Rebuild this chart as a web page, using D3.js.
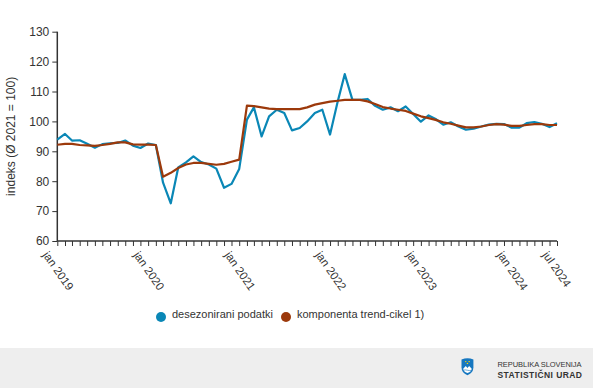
<!DOCTYPE html>
<html>
<head>
<meta charset="utf-8">
<script src="https://cdn.jsdelivr.net/npm/d3@7"></script>
<style>
  body { margin: 0; background: #fff; font-family: "Liberation Sans", Arial, sans-serif; }
  .axis text { fill: #333; font-size: 12px; font-family: "Liberation Sans", Arial, sans-serif; }
  .axis path, .axis line { stroke: #333; }
</style>
</head>
<body>
<div id="chart"></div>
<script>
// monthly data, jan 2019 .. jul 2024
const startMonth = new Date(2019, 0, 1);

const desezonirani = [
  93.9, 95.8, 93.6, 93.7, 92.5, 91.2, 92.4, 92.7, 92.8, 93.6, 91.9, 91.1,
  92.6, 92.1, 79.5, 72.6, 84.6, 86.3, 88.3, 86.4, 85.6, 84.2, 77.8, 79.1,
  84.1, 100.6, 104.7, 95.0, 101.7, 103.9, 102.8, 97.0, 97.8, 100.0, 102.8, 103.9,
  95.6, 106.7, 115.8, 107.2, 107.2, 107.5, 105.2, 103.9, 104.7, 103.4, 105.0, 102.5,
  99.9, 102.0, 100.8, 98.9, 99.7, 98.3, 97.2, 97.6, 98.3, 98.9, 99.2, 99.1,
  97.9, 97.9, 99.4, 99.8, 99.2, 98.1, 99.4
];

const trendCikel = [
  92.2, 92.5, 92.5, 92.1, 92.0, 91.8, 92.1, 92.5, 93.0, 93.0, 92.3, 92.2,
  92.2, 92.1, 81.5, 82.8, 84.4, 85.6, 86.1, 86.1, 85.8, 85.5, 85.8, 86.5,
  87.2, 105.3, 105.1, 104.7, 104.3, 104.1, 104.1, 104.1, 104.1, 104.7, 105.6, 106.1,
  106.6, 106.9, 107.2, 107.2, 107.2, 106.7, 105.8, 104.8, 104.3, 103.9, 103.5, 102.6,
  101.7, 101.1, 100.5, 99.7, 99.2, 98.6, 98.0, 98.0, 98.3, 98.8, 99.1, 98.9,
  98.5, 98.5, 98.8, 99.1, 99.1, 98.8, 98.8
];

const yTicks = [60, 70, 80, 90, 100, 110, 120, 130];
const xTickDates = [
  new Date(2019, 0, 1), new Date(2020, 0, 1), new Date(2021, 0, 1),
  new Date(2022, 0, 1), new Date(2023, 0, 1), new Date(2024, 0, 1), new Date(2024, 6, 1)
];
const xTickLabels = ["jan 2019", "jan 2020", "jan 2021", "jan 2022", "jan 2023", "jan 2024", "jul 2024"];

const seriesNames = ["desezonirani podatki", "komponenta trend-cikel 1)"];
const seriesColors = ["#0a87b6", "#9c390b"];
const yTitle = "indeks (\u00d8 2021 = 100)";

const W = 593, H = 388;
const margin = {top: 31.7, right: 36, bottom: 147, left: 57.3};
const width = W - margin.left - margin.right;
const height = H - margin.top - margin.bottom;

const months = d3.range(desezonirani.length).map(i => d3.timeMonth.offset(startMonth, i));

const svg = d3.select("#chart").append("svg")
  .attr("width", W).attr("height", H);

const g = svg.append("g")
  .attr("transform", `translate(${margin.left},${margin.top})`);

const x = d3.scaleTime()
  .domain(d3.extent(months))
  .range([0, width]);

const y = d3.scaleLinear()
  .domain([60, 130])
  .range([height, 0]);

// y axis
const yAxis = g.append("g").attr("class", "axis")
  .call(d3.axisLeft(y).tickValues(yTicks).tickSize(5).tickPadding(3));
yAxis.select(".domain").attr("d", `M0,0V${height}`).attr("stroke-width", 1.5);

// x axis: monthly ticks, labels rotated
const xAxis = g.append("g").attr("class", "axis")
  .attr("transform", `translate(0,${height})`)
  .call(d3.axisBottom(x).tickValues(months).tickSize(5).tickFormat(""));
xAxis.select(".domain").attr("d", `M0,0H${width}`).attr("stroke-width", 1.5);
xAxis.selectAll(".tick line").attr("stroke", "#666");

g.append("g").selectAll("text")
  .data(xTickDates)
  .join("text")
  .attr("transform", (d, i) => `translate(${x(d) - 15},${height + 14}) rotate(55)`)
  .attr("font-size", 11.5)
  .attr("fill", "#333")
  .attr("text-anchor", "start")
  .text((d, i) => xTickLabels[i]);

// y title
svg.append("text")
  .attr("transform", `translate(15,${margin.top + height / 2}) rotate(-90)`)
  .attr("text-anchor", "middle")
  .attr("font-size", 12)
  .attr("fill", "#333")
  .text(yTitle);

// lines
const line = d3.line()
  .x((d, i) => x(months[i]))
  .y(d => y(d));

[desezonirani, trendCikel].forEach((s, k) => {
  g.append("path")
    .datum(s)
    .attr("fill", "none")
    .attr("stroke", seriesColors[k])
    .attr("stroke-width", 2.2)
    .attr("stroke-linejoin", "round")
    .attr("d", line);
});

// legend
const legend = svg.append("g").attr("transform", "translate(161,317)");
const legendX = [0, 125];
seriesNames.forEach((name, k) => {
  const it = legend.append("g").attr("transform", `translate(${legendX[k]},0)`);
  it.append("circle").attr("r", 5).attr("fill", seriesColors[k]);
  it.append("text").attr("x", 11).attr("y", 0).attr("dy", "0.1em")
    .attr("font-size", 11).attr("fill", "#333").text(name);
});

// footer band
svg.append("rect").attr("x", 0).attr("y", 348).attr("width", W).attr("height", 40)
  .attr("fill", "#eeeeee");

// logo (shield)
const logo = svg.append("g").attr("transform", "translate(461.5,358) scale(0.85,0.72)");
logo.append("path")
  .attr("d", "M0,2 Q7,-1 14,2 L14,13 Q14,21 7,24 Q0,21 0,13 Z")
  .attr("fill", "#1677c0");
logo.append("path")
  .attr("d", "M2,15 L5,11 L7,14 L9,11 L12,15 Q12,19 7,21 Q2,19 2,15 Z")
  .attr("fill", "#fff");
logo.append("path").attr("d", "M2,17 Q4.5,16 7,17 Q9.5,18 12,17")
  .attr("stroke", "#1677c0").attr("stroke-width", 0.8).attr("fill", "none");
[[5, 5], [9, 5], [7, 7.5]].forEach(p => {
  logo.append("circle").attr("cx", p[0]).attr("cy", p[1]).attr("r", 0.9).attr("fill", "#ffd400");
});

svg.append("text").attr("x", 497.5).attr("y", 366.5)
  .attr("font-size", 7.5).attr("fill", "#333")
  .attr("textLength", 84).attr("lengthAdjust", "spacing")
  .text("REPUBLIKA SLOVENIJA");
svg.append("text").attr("x", 497.5).attr("y", 377.5)
  .attr("font-size", 8.5).attr("font-weight", "bold").attr("fill", "#333")
  .attr("textLength", 84.5).attr("lengthAdjust", "spacing")
  .text("STATISTIČNI URAD");
</script>
</body>
</html>
